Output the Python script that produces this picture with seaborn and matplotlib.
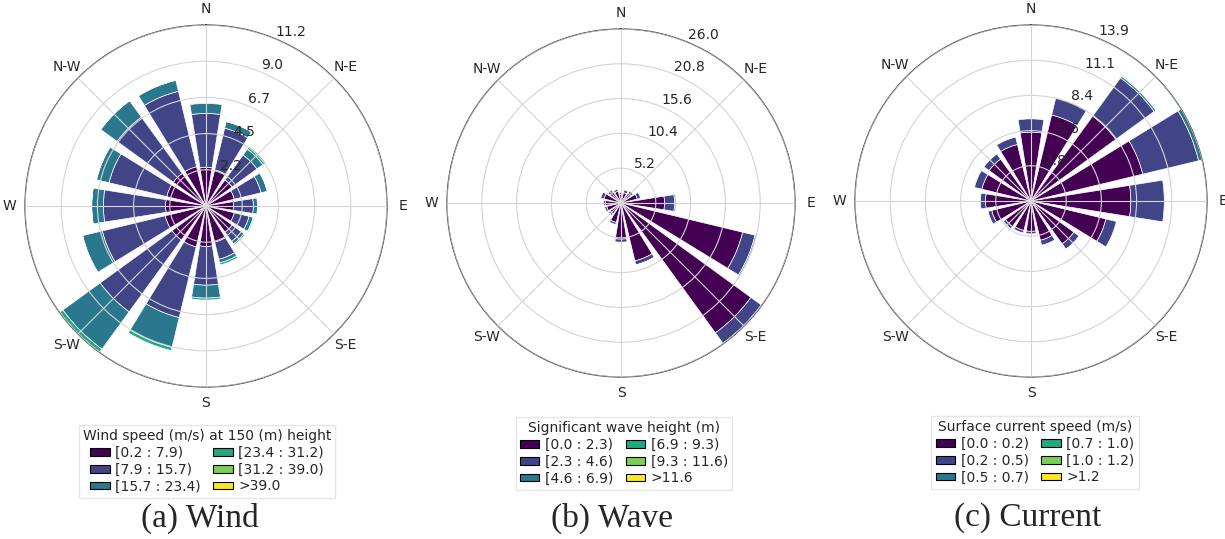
import numpy as np
import matplotlib
matplotlib.use("Agg")
import matplotlib.pyplot as plt
import seaborn as sns
from matplotlib.patches import Rectangle

sns.set_style("white")
plt.rcParams['font.family'] = ['DejaVu Sans']

# ---------------- data ----------------
directions = ["N", "NNE", "NE", "ENE", "E", "ESE", "SE", "SSE",
              "S", "SSW", "SW", "WSW", "W", "WNW", "NW", "NNW"]
direction_deg = [0, 22.5, 45, 67.5, 90, 112.5, 135, 157.5,
                 180, 202.5, 225, 247.5, 270, 292.5, 315, 337.5]
compass_angles = [0, 45, 90, 135, 180, 225, 270, 315]
compass_labels = ["N", "N-E", "E", "S-E", "S", "S-W", "W", "N-W"]

# (a) Wind — frequency (%) per speed bin
wind_bins = ["[0.2 : 7.9)", "[7.9 : 15.7)", "[15.7 : 23.4)",
             "[23.4 : 31.2)", "[31.2 : 39.0)", ">39.0"]
wind_b0 = [2.4, 2.3, 2.0, 1.8, 1.7, 1.8, 2.0, 2.3, 2.5, 2.6, 2.6, 2.6, 2.5, 2.5, 2.5, 2.5]
wind_b1 = [3.33, 2.65, 1.9, 1.7, 1.23, 0.94, 0.7, 1.09, 2.4, 4.5, 5.5, 4.0, 3.85, 3.67, 4.3, 4.8]
wind_b2 = [0.62, 0.42, 0.45, 0.4, 0.25, 0.26, 0.2, 0.23, 0.8, 1.9, 2.85, 1.25, 0.72, 0.8, 1.25, 0.7]
wind_b3 = [0.0, 0.02, 0.2, 0.02, 0.0, 0.06, 0.08, 0.13, 0.12, 0.2, 0.22, 0.02, 0.01, 0.01, 0.01, 0.01]
wind_b4 = [0, 0, 0, 0, 0, 0, 0, 0, 0, 0, 0.03, 0, 0, 0, 0, 0]
wind_b5 = [0, 0, 0, 0, 0, 0, 0, 0, 0, 0, 0, 0, 0, 0, 0, 0]
wind_rlabels = ["2.2", "4.5", "6.7", "9.0", "11.2"]
wind_title = "Wind speed (m/s) at 150 (m) height"

# (b) Wave — frequency (%) per significant wave height bin
wave_bins = ["[0.0 : 2.3)", "[2.3 : 4.6)", "[4.6 : 6.9)",
             "[6.9 : 9.3)", "[9.3 : 11.6)", ">11.6"]
wave_b0 = [1.3, 1.6, 1.8, 2.5, 6.5, 18.7, 24.0, 8.9, 5.4, 3.0, 2.0, 2.2, 2.3, 2.6, 2.0, 1.8]
wave_b1 = [0.3, 0.4, 0.4, 0.5, 1.5, 1.9, 1.9, 0.6, 0.45, 0.3, 0.3, 0.3, 0.3, 0.5, 0.4, 0.3]
wave_b2 = [0, 0, 0, 0, 0.2, 0.2, 0.1, 0.05, 0, 0, 0, 0, 0, 0, 0, 0]
wave_b3 = [0] * 16
wave_b4 = [0] * 16
wave_b5 = [0] * 16
wave_rlabels = ["5.2", "10.4", "15.6", "20.8", "26.0"]
wave_title = "Significant wave height (m)"

# (c) Current — frequency (%) per surface current speed bin
cur_bins = ["[0.0 : 0.2)", "[0.2 : 0.5)", "[0.5 : 0.7)",
            "[0.7 : 1.0)", "[1.0 : 1.2)", ">1.2"]
cur_b0 = [5.45, 7.0, 8.3, 9.1, 7.9, 6.1, 4.2, 3.2, 2.4, 2.4, 2.5, 3.2, 3.6, 4.0, 4.1, 4.6]
cur_b1 = [1.05, 1.4, 3.75, 4.55, 2.65, 0.85, 0.5, 0.4, 0.2, 0.2, 0.2, 0.3, 0.4, 0.6, 0.5, 0.6]
cur_b2 = [0, 0, 0.15, 0.28, 0, 0, 0, 0, 0, 0, 0, 0, 0, 0, 0, 0]
cur_b3 = [0] * 16
cur_b4 = [0] * 16
cur_b5 = [0] * 16
cur_rlabels = ["2.8", "5.6", "8.4", "11.1", "13.9"]
cur_title = "Surface current speed (m/s)"

captions = ["(a) Wind", "(b) Wave", "(c) Current"]

# ---------------- styling ----------------
W, H = 1225, 539
colors = sns.color_palette(list(plt.get_cmap("viridis")(np.linspace(0, 1, 6))))

fig = plt.figure(figsize=(W / 100, H / 100), dpi=100)

panels = [
    dict(c=(206, 206), r=181, bins=[wind_b0, wind_b1, wind_b2, wind_b3, wind_b4, wind_b5],
         rl=wind_rlabels, labels=wind_bins, title=wind_title, leg=(207, 418), cap=200),
    dict(c=(621, 203), r=174, bins=[wave_b0, wave_b1, wave_b2, wave_b3, wave_b4, wave_b5],
         rl=wave_rlabels, labels=wave_bins, title=wave_title, leg=(624, 410), cap=612),
    dict(c=(1031, 201), r=176, bins=[cur_b0, cur_b1, cur_b2, cur_b3, cur_b4, cur_b5],
         rl=cur_rlabels, labels=cur_bins, title=cur_title, leg=(1035, 409), cap=1028),
]

for p, cap in zip(panels, captions):
    cx, cy = p["c"]
    r = p["r"]
    ax = fig.add_axes([(cx - r) / W, (H - cy - r) / H, 2 * r / W, 2 * r / H],
                      projection="polar")
    ax.set_theta_zero_location("N")
    ax.set_theta_direction(-1)
    theta = np.deg2rad(direction_deg)
    width = np.deg2rad(22.5) * 0.8
    bottom = np.zeros(len(directions))
    for vals, col in zip(p["bins"], colors):
        vals = np.asarray(vals, dtype=float)
        m = vals > 0
        if m.any():
            ax.bar(theta[m], vals[m], width=width, bottom=bottom[m], color=col,
                   edgecolor="white", linewidth=0.5, zorder=1, align="center")
        bottom += vals
    rmax = bottom.max()
    ax.set_ylim(0, rmax)
    ax.set_yticks(np.linspace(0, rmax, 6)[1:])
    ax.set_yticklabels(p["rl"], fontsize=10)
    ax.set_rlabel_position(22.5)
    ax.set_thetagrids(compass_angles, compass_labels, fontsize=10)
    ax.tick_params(axis="x", pad=1)
    ax.set_axisbelow(False)
    ax.grid(True, color="#d4d4d4", linewidth=0.8)
    ax.spines["polar"].set_color("#444444")
    ax.spines["polar"].set_linewidth(0.9)
    ax.set_facecolor("white")

    handles = [Rectangle((0, 0), 1, 1, facecolor=c, edgecolor="black", linewidth=0.8)
               for c in colors]
    lx, ly = p["leg"]
    fig.legend(handles, p["labels"], title=p["title"], ncol=2, loc="upper center",
               bbox_to_anchor=(lx / W, 1 - ly / H), fontsize=10, title_fontsize=10,
               handlelength=1.4, handleheight=0.5, handletextpad=0.4,
               columnspacing=0.9, labelspacing=0.2, borderpad=0.3,
               fancybox=False, edgecolor="#e6e6e6", framealpha=1.0)

    fig.text(p["cap"] / W, 1 - 518 / H, cap, ha="center", va="center",
             fontsize=24, family=["Liberation Serif", "DejaVu Serif"])

fig.savefig("out.png", dpi=100)
